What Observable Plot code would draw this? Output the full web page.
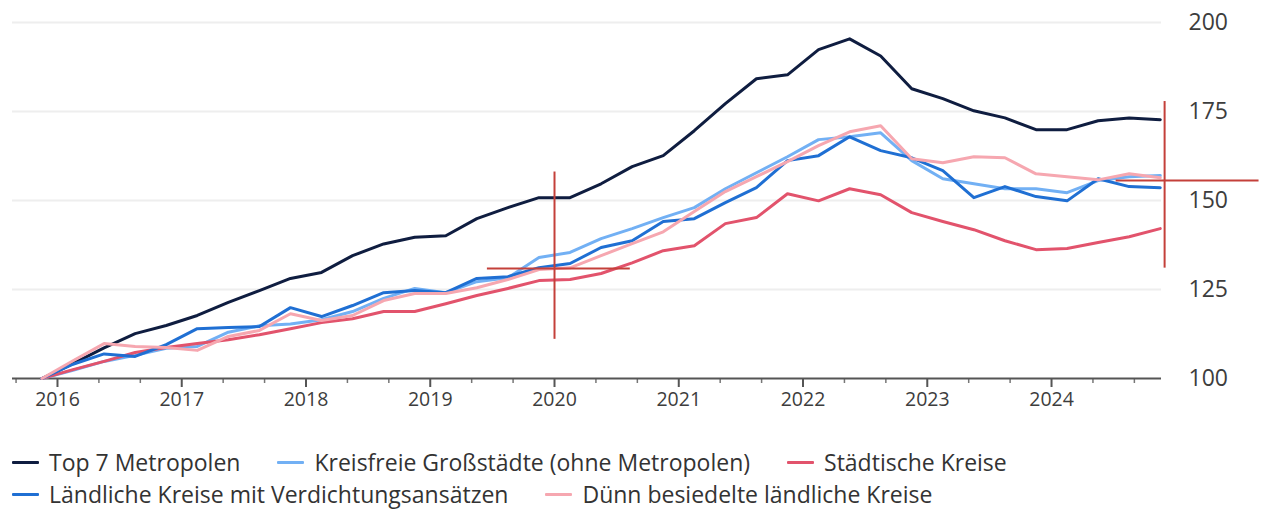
<!DOCTYPE html>
<html><head><meta charset="utf-8">
<script src="https://cdn.jsdelivr.net/npm/d3@7"></script>
<script src="https://cdn.jsdelivr.net/npm/@observablehq/plot@0.6"></script>
<style>
body{margin:0;background:#fff;font-family:"Open Sans",Roboto,sans-serif;}
#chart{width:1261px;height:510px;overflow:hidden;}
.legend{padding:17px 0 0 12px;}
.row{display:flex;align-items:center;height:32px;}
.item{display:flex;align-items:center;margin-right:37px;font-size:23px;line-height:1.1;color:#333;white-space:nowrap;}
.sw{width:27px;height:3px;margin-right:10px;border-radius:1px;}
</style></head><body><div id="chart"></div>
<script>
// Quarterly index values (Q4 2015 = 100)
const quarters = ["2015Q4","2016Q1","2016Q2","2016Q3","2016Q4","2017Q1","2017Q2","2017Q3","2017Q4","2018Q1","2018Q2","2018Q3","2018Q4","2019Q1","2019Q2","2019Q3","2019Q4","2020Q1","2020Q2","2020Q3","2020Q4","2021Q1","2021Q2","2021Q3","2021Q4","2022Q1","2022Q2","2022Q3","2022Q4","2023Q1","2023Q2","2023Q3","2023Q4","2024Q1","2024Q2","2024Q3","2024Q4"];
const seriesNames = ["Top 7 Metropolen","Kreisfreie Großstädte (ohne Metropolen)","Städtische Kreise","Ländliche Kreise mit Verdichtungsansätzen","Dünn besiedelte ländliche Kreise"];
const seriesColors = ["#0f1d40","#72b0f4","#e2536c","#1f6fd3","#f6a7b0"];
const top7 = [100,104.2,108.6,112.6,114.9,117.7,121.4,124.7,128.1,129.8,134.5,137.8,139.7,140.1,144.9,148.0,150.8,150.8,154.7,159.5,162.6,169.6,177.2,184.2,185.3,192.4,195.4,190.6,181.4,178.6,175.2,173.2,169.9,169.9,172.4,173.2,172.7];
const kreisfrei = [100,102.3,104.8,106.5,108.5,109.0,113.0,114.8,115.3,116.5,118.8,122.5,125.3,124.1,127.2,128.3,134.0,135.4,139.3,142.1,145.2,148.0,153.3,157.8,162.3,167.1,167.9,169.0,161.2,156.1,154.7,153.3,153.3,152.2,155.6,156.7,157.0];
const staedtisch = [100,102.5,104.8,107.3,108.7,109.8,110.9,112.3,114.0,115.7,116.8,118.8,118.8,121.0,123.3,125.3,127.5,127.8,129.5,132.5,135.9,137.3,143.5,145.2,151.9,149.9,153.3,151.6,146.6,144.1,141.8,138.7,136.2,136.5,138.2,139.8,142.1];
const laendlich = [100,104.0,106.9,106.2,109.5,114.0,114.3,114.6,119.9,117.4,120.5,124.1,124.7,124.1,128.1,128.6,131.1,132.3,136.8,138.7,144.1,144.9,149.4,153.6,161.2,162.6,167.9,164.0,162.0,158.4,150.8,153.9,151.1,149.9,156.1,153.9,153.6];
const duenn = [100,105.0,109.8,109.0,108.7,107.9,111.8,113.5,118.2,116.3,117.7,121.9,123.9,123.9,125.5,127.8,130.6,131.1,134.5,137.9,141.2,146.9,152.5,156.7,160.9,165.4,169.3,171.0,161.7,160.6,162.3,162.0,157.5,156.7,155.8,157.5,156.4];
const yTicks = [100,125,150,175,200];
const yearTicks = [2016,2017,2018,2019,2020,2021,2022,2023,2024];
// annotation crosshairs (data units)
const crossV = [{x:2020.0,y1:111,y2:158},{x:2024.91,y1:131,y2:177.8}];
const crossH = [{y:130.9,x1:2019.46,x2:2020.61},{y:155.6,x1:2024.52,x2:2025.67}];

const allSeries = [top7,kreisfrei,staedtisch,laendlich,duenn];
const qToYear = q => +q.slice(0,4) + (+q.slice(5) - 0.5)/4;
const data = [];
allSeries.forEach((vals,s)=>vals.forEach((v,i)=>data.push({series:seriesNames[s],t:qToYear(quarters[i]),v})));
const minorTicks = d3.range(2015*3+2, 2024*3+3).map(k=>k/3).filter(t=>!yearTicks.some(y=>Math.abs(y-t)<1e-6));

const plot = Plot.plot({
  width:1261, height:430,
  marginLeft:12, marginRight:100, marginTop:22, marginBottom:52,
  x:{domain:[2015.638,2024.885]},
  y:{domain:[100,200]},
  color:{domain:seriesNames, range:seriesColors},
  style:{fontFamily:"'Open Sans', Roboto, sans-serif", fontSize:"20px", color:"#3d3d3d", background:"white", overflow:"visible"},
  marks:[
    Plot.gridY(yTicks.filter(t=>t>100), {stroke:"#eeeeee", strokeOpacity:1, strokeWidth:2}),
    Plot.axisY(yTicks, {anchor:"right", tickSize:0, tickPadding:27, fontSize:23, tickFormat:d=>String(d), label:null}),
    Plot.axisX(minorTicks, {tickSize:5, tickFormat:()=>"", stroke:"#777", strokeWidth:1.5, label:null}),
    Plot.axisX(yearTicks, {tickSize:9, tickPadding:5, tickFormat:d=>String(d), stroke:"#555", strokeWidth:2, fontSize:19.5, label:null}),
    Plot.ruleY([100], {stroke:"#555", strokeWidth:2}),
    Plot.line(data, {x:"t", y:"v", z:"series", stroke:"series", strokeWidth:3, strokeLinejoin:"round"}),
    Plot.ruleX(crossV, {x:"x", y1:"y1", y2:"y2", stroke:"#c4403a", strokeWidth:2}),
    Plot.ruleY(crossH, {y:"y", x1:"x1", x2:"x2", stroke:"#c4403a", strokeWidth:2})
  ]
});
const chart = document.getElementById("chart");
chart.appendChild(plot);

const legend = document.createElement("div");
legend.className = "legend";
[[0,1,2],[3,4]].forEach(r=>{
  const row = document.createElement("div"); row.className="row";
  r.forEach(i=>{
    const it = document.createElement("div"); it.className="item";
    const sw = document.createElement("span"); sw.className="sw"; sw.style.background=seriesColors[i];
    const tx = document.createElement("span"); tx.textContent=seriesNames[i];
    it.appendChild(sw); it.appendChild(tx); row.appendChild(it);
  });
  legend.appendChild(row);
});
chart.appendChild(legend);
</script></body></html>
